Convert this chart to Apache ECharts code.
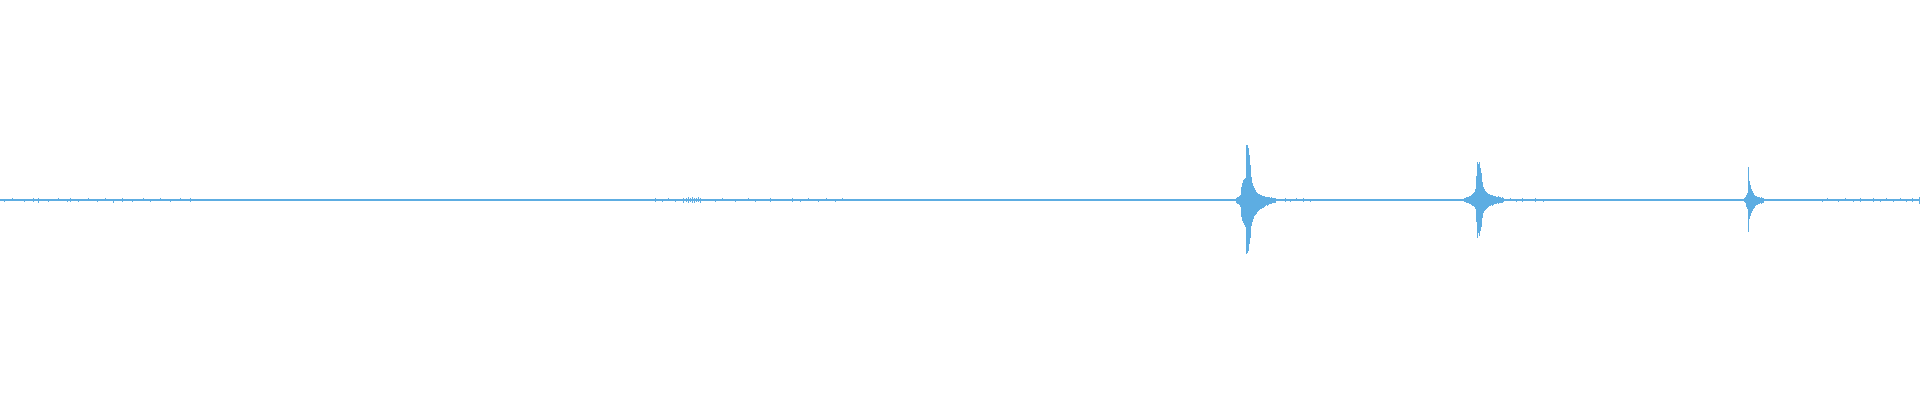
<!DOCTYPE html>
<html>
<head>
<meta charset="utf-8">
<script src="https://cdn.jsdelivr.net/npm/echarts@6/dist/echarts.min.js"></script>
<style>
html,body{margin:0;padding:0;background:#ffffff;}
#chart{width:1920px;height:400px;}
</style>
</head>
<body>
<div id="chart"></div>
<script>
// Waveform envelope data (sample column index, amplitude in thousandths of full scale)
var totalColumns = 1920;
var baseHi = 5;
var baseLo = -5;

// Burst 1
var burst1Start = 1236;
var burst1Hi = [10,15,15,20,25,65,85,100,105,110,275,275,260,225,175,115,85,70,60,50,40,35,30,30,25,25,20,20,20,15,15,15,15,15,10,15,10,10,10,10];
var burst1Lo = [-15,-20,-20,-25,-35,-85,-105,-115,-125,-135,-270,-265,-255,-220,-190,-130,-110,-95,-80,-75,-70,-60,-55,-50,-45,-45,-40,-40,-35,-30,-25,-30,-25,-20,-20,-20,-15,-15,-15,-15];

// Burst 2
var burst2Start = 1464;
var burst2Hi = [10,10,15,15,15,20,20,25,30,35,40,55,120,190,180,190,160,135,90,65,55,45,40,35,30,30,25,25,25,20,20,20,15,15,20,15,15,10,15,10];
var burst2Lo = [-10,-10,-15,-15,-15,-20,-20,-25,-30,-30,-35,-45,-110,-190,-165,-180,-155,-135,-90,-65,-55,-50,-45,-40,-35,-30,-30,-25,-30,-25,-20,-20,-20,-15,-20,-15,-15,-15,-15,-10];

// Burst 3
var burst3Start = 1744;
var burst3Hi = [10,15,25,35,165,95,75,55,45,35,25,20,20,15,15,15,10,15,10,10];
var burst3Lo = [-10,-15,-35,-45,-160,-95,-80,-65,-55,-45,-40,-30,-25,-25,-20,-20,-15,-20,-15,-15];

// Small noise ticks along the baseline
var noiseX  = [4,12,24,33,38,48,58,67,70,78,88,97,105,113,122,132,143,150,160,170,180,190,
               655,662,668,675,683,686,688,690,692,694,696,698,700,715,722,735,748,755,770,785,792,800,808,818,826,835,842,
               1285,1290,1296,1303,1310,1497,1510,1516,1522,1530,1535,1543,
               1822,1827,1838,1845,1853,1860,1866,1873,1880,1886,1893,1900,1906,1912,1919];
var noiseHi = [5,10,5,10,10,5,10,5,10,5,10,5,10,5,10,5,10,5,10,5,10,10,
               10,5,10,5,10,10,15,10,15,10,10,15,10,5,10,5,10,5,10,5,10,5,10,5,10,5,10,
               10,5,10,10,5,10,10,5,10,5,10,5,
               5,10,5,10,5,10,5,10,5,10,5,10,5,10,15];
var noiseLo = [-10,-5,-10,-10,-15,-10,-5,-10,-10,-10,-5,-10,-5,-15,-10,-10,-5,-10,-5,-10,-5,-10,
               -10,-10,-5,-10,-15,-10,-15,-10,-15,-15,-10,-10,-15,-10,-5,-10,-5,-10,-10,-5,-10,-10,-5,-10,-5,-10,-5,
               -10,-10,-5,-10,-10,-10,-5,-10,-10,-5,-10,-10,
               -10,-5,-10,-5,-10,-10,-5,-10,-10,-5,-10,-5,-10,-10,-20];

function buildItems() {
  var items = [[0, totalColumns, baseHi, baseLo]];
  var i;
  for (i = 0; i < noiseX.length; i++) items.push([noiseX[i], noiseX[i] + 1, noiseHi[i], noiseLo[i]]);
  var bursts = [[burst1Start, burst1Hi, burst1Lo],[burst2Start, burst2Hi, burst2Lo],[burst3Start, burst3Hi, burst3Lo]];
  bursts.forEach(function (b) {
    for (var k = 0; k < b[1].length; k++) items.push([b[0] + k, b[0] + k + 1, b[1][k], b[2][k]]);
  });
  return items;
}

var chart = echarts.init(document.getElementById('chart'), null, {renderer: 'canvas'});
chart.setOption({
  animation: false,
  backgroundColor: '#ffffff',
  grid: {left: 0, right: 0, top: 0, bottom: 0},
  xAxis: {type: 'value', min: 0, max: totalColumns, show: false},
  yAxis: {type: 'value', min: -1000, max: 1000, show: false},
  series: [{
    type: 'custom',
    data: buildItems(),
    renderItem: function (params, api) {
      var p0 = api.coord([api.value(0), api.value(2)]);
      var p1 = api.coord([api.value(1), api.value(3)]);
      return {
        type: 'rect',
        shape: {x: Math.round(p0[0]), y: Math.round(p0[1]), width: Math.round(p1[0]) - Math.round(p0[0]), height: Math.round(p1[1]) - Math.round(p0[1])},
        style: {fill: '#5dade2'}
      };
    }
  }]
});
</script>
</body>
</html>
